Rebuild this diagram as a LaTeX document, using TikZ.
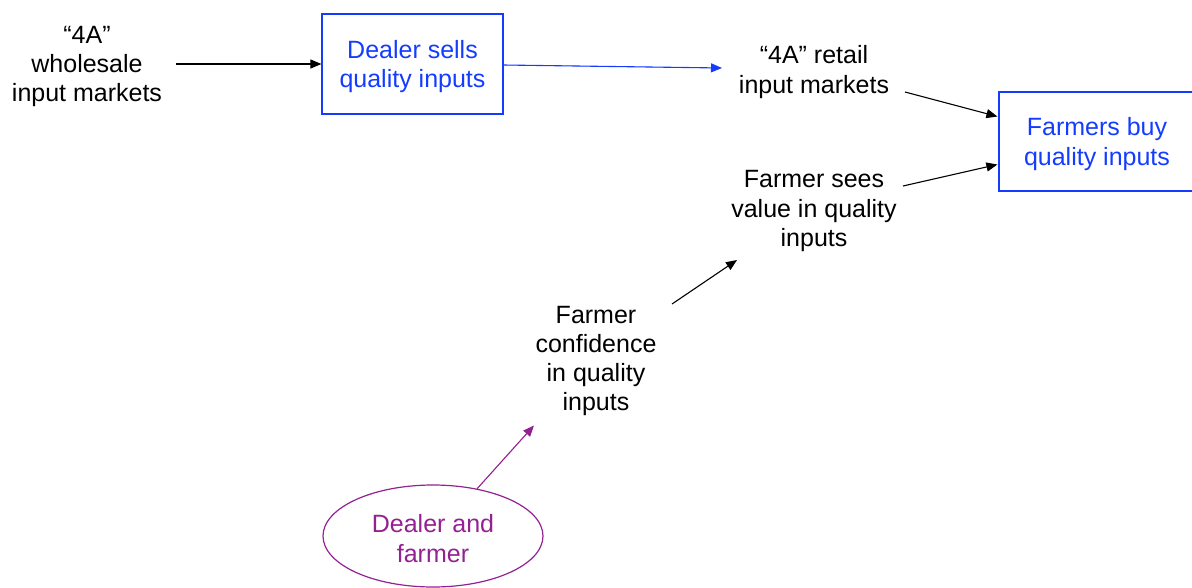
\documentclass[tikz,border=0pt]{standalone}
\usepackage{fontspec}
\setmainfont{Liberation Sans}
\usetikzlibrary{arrows.meta,calc,shapes.geometric}
\definecolor{dblue}{RGB}{20,60,255}
\definecolor{dplum}{RGB}{148,33,146}
\newcommand\labelfont{\fontsize{25}{29.3}\selectfont}
\tikzset{
  txt/.style={align=center, font=\labelfont, text=black, inner sep=0pt},
  actbox/.style={draw=dblue, line width=1.2pt, inner sep=0pt},
  acttext/.style={txt, text=dblue},
  actor/.style={ellipse, draw=dplum, line width=1.2pt, inner sep=0pt,
                minimum width=220pt, minimum height=102pt},
  actortext/.style={txt, text=dplum},
  arr/.style={-{Triangle[length=11pt,width=9pt]}, line width=1.1pt},
}
\begin{document}
\begin{tikzpicture}[x=1pt,y=-1pt]
\useasboundingbox (0,0) rectangle (1192,587);

% actors and outcomes
\node[txt] (ws) at (87,66.5) {“4A”\\wholesale\\input markets};
\node[actbox, minimum width=181pt, minimum height=100pt] (dealer) at (412.5,64) {};
\node[acttext] (dealer-t) at (412.5,66.5) {Dealer sells\\quality inputs};
\node[txt] (retail) at (814,72) {“4A” retail\\input markets};
\node[actbox, minimum width=196pt, minimum height=99pt] (buy) at (1097,141.5) {};
\node[acttext] (buy-t) at (1097,144) {Farmers buy\\quality inputs};
\node[txt] (sees) at (814,211) {Farmer sees\\value in quality\\inputs};
\node[txt] (conf) at (596,361) {Farmer\\confidence\\in quality\\inputs};
\node[actor] (de) at (433,536) {};
\node[actortext] (de-t) at (433,538.5) {Dealer and\\farmer};

% causal links
\draw[arr] ($(ws.center)+(89,-2.5)$) -- (dealer.west);
\draw[arr, draw=dblue, fill=dblue] ($(dealer.east)+(0,1)$) -- ($(retail.center)+(-92,-4)$);
\draw[arr] ($(retail.center)+(91,20)$) -- ($(buy.west)+(-1,-25)$);
\draw[arr] ($(sees.center)+(89,-25)$) -- ($(buy.west)+(-1,23)$);
\draw[arr] ($(conf.center)+(76,-57)$) -- ($(sees.center)+(-77,49)$);
\draw[arr, draw=dplum, fill=dplum] (de.47) -- ($(conf.center)+(-62,64.5)$);
\end{tikzpicture}
\end{document}
